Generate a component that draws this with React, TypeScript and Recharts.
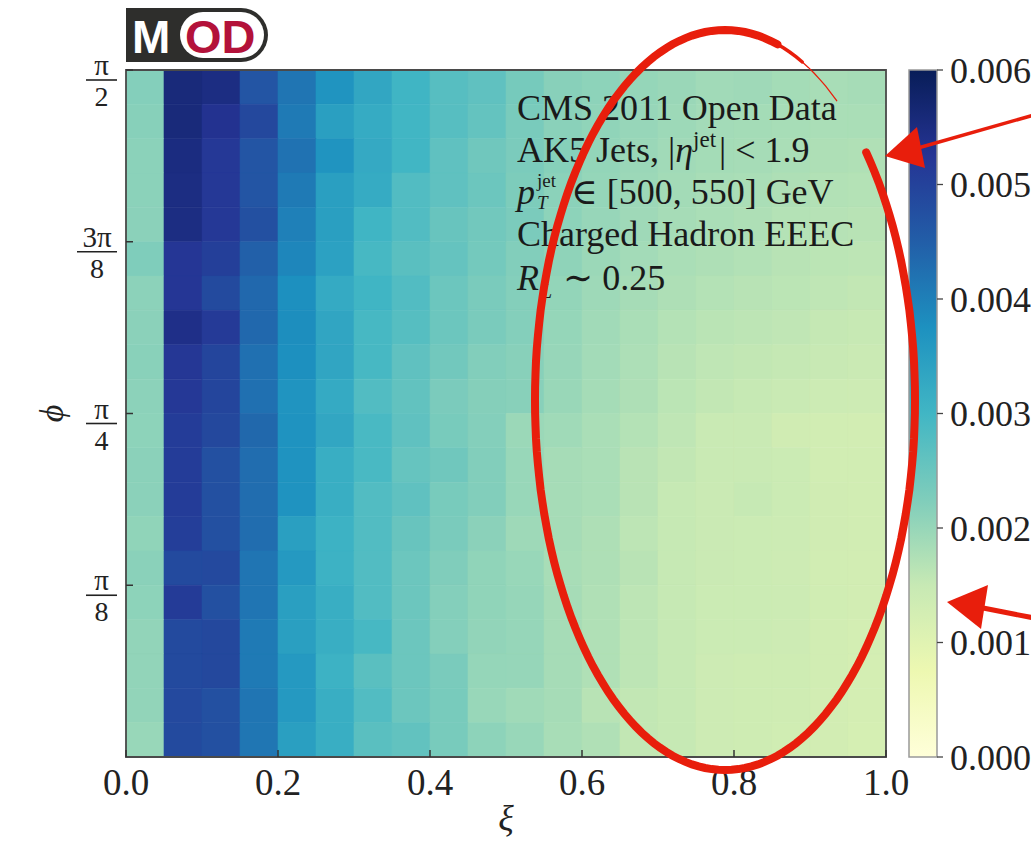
import { ReferenceArea, ReferenceLine, Scatter, ScatterChart, XAxis, YAxis, Label } from 'recharts'

// xi bin edges (20 bins) and phi bin edges (20 bins from 0 to pi/2)
const xiEdges = [0, 0.05, 0.1, 0.15, 0.2, 0.25, 0.3, 0.35, 0.4, 0.45, 0.5, 0.55, 0.6, 0.65, 0.7, 0.75, 0.8, 0.85, 0.9, 0.95, 1.0]
const phiEdges = Array.from({ length: 21 }, (_, k) => (k * Math.PI) / 40)

// EEEC density in units of 1e-3, first row is the top one (phi near pi/2)
const eeecRows = [
  [2.2, 5.57, 5.48, 4.66, 4.16, 3.69, 3.32, 3.03, 2.73, 2.63, 2.36, 2.16, 2.1, 2.02, 1.97, 1.9, 1.92, 1.86, 1.82, 1.84],
  [2.17, 5.57, 5.3, 4.9, 4.09, 3.47, 3.22, 3.0, 2.73, 2.58, 2.32, 2.14, 2.07, 2.0, 1.94, 1.88, 1.86, 1.83, 1.8, 1.8],
  [2.12, 5.5, 5.18, 4.66, 4.2, 3.69, 3.26, 3.0, 2.63, 2.43, 2.3, 2.18, 2.04, 1.97, 1.9, 1.86, 1.84, 1.8, 1.76, 1.74],
  [2.12, 5.48, 5.18, 4.66, 4.09, 3.47, 3.22, 2.8, 2.63, 2.48, 2.28, 2.12, 2.02, 1.95, 1.87, 1.82, 1.8, 1.76, 1.72, 1.7],
  [2.13, 5.48, 5.18, 4.75, 4.0, 3.47, 3.02, 2.8, 2.53, 2.41, 2.3, 2.1, 2.0, 1.92, 1.84, 1.8, 1.76, 1.7, 1.68, 1.66],
  [2.25, 5.22, 5.05, 4.47, 3.91, 3.43, 2.93, 2.7, 2.57, 2.38, 2.22, 2.08, 1.96, 1.88, 1.8, 1.76, 1.72, 1.66, 1.62, 1.6],
  [2.11, 5.22, 4.86, 4.35, 3.77, 3.24, 3.02, 2.8, 2.48, 2.31, 2.2, 2.04, 1.93, 1.84, 1.76, 1.7, 1.66, 1.62, 1.58, 1.55],
  [2.13, 5.4, 5.14, 4.35, 3.8, 3.34, 2.93, 2.75, 2.48, 2.31, 2.2, 2.02, 1.9, 1.8, 1.7, 1.64, 1.6, 1.57, 1.52, 1.5],
  [2.15, 5.2, 4.95, 4.23, 3.77, 3.34, 2.93, 2.63, 2.41, 2.22, 2.16, 2.0, 1.88, 1.77, 1.66, 1.58, 1.55, 1.52, 1.48, 1.45],
  [2.11, 5.18, 4.95, 4.23, 3.69, 3.24, 2.8, 2.6, 2.3, 2.19, 2.16, 1.98, 1.85, 1.76, 1.62, 1.55, 1.51, 1.47, 1.4, 1.38],
  [2.1, 5.1, 4.9, 4.36, 3.71, 3.32, 2.9, 2.63, 2.33, 2.2, 1.96, 1.91, 1.8, 1.7, 1.58, 1.47, 1.47, 1.33, 1.3, 1.28],
  [2.13, 5.1, 4.75, 4.28, 3.71, 3.16, 2.9, 2.55, 2.43, 2.22, 1.99, 1.84, 1.8, 1.65, 1.55, 1.47, 1.47, 1.42, 1.3, 1.3],
  [2.13, 5.1, 4.75, 4.28, 3.71, 3.16, 2.8, 2.63, 2.33, 2.22, 1.99, 1.84, 1.8, 1.65, 1.51, 1.45, 1.51, 1.42, 1.33, 1.3],
  [2.07, 5.08, 4.75, 4.28, 3.47, 3.08, 2.8, 2.53, 2.31, 2.13, 1.93, 1.84, 1.76, 1.6, 1.51, 1.45, 1.42, 1.4, 1.33, 1.3],
  [2.14, 4.86, 4.88, 4.16, 3.59, 3.08, 2.8, 2.48, 2.24, 2.07, 1.99, 1.82, 1.76, 1.65, 1.51, 1.45, 1.42, 1.38, 1.3, 1.28],
  [2.1, 5.12, 4.75, 4.16, 3.47, 3.16, 2.8, 2.48, 2.2, 2.07, 2.01, 1.84, 1.74, 1.6, 1.51, 1.42, 1.42, 1.4, 1.32, 1.28],
  [2.05, 4.86, 4.9, 4.09, 3.47, 3.16, 2.93, 2.48, 2.2, 2.05, 2.01, 1.84, 1.74, 1.6, 1.51, 1.42, 1.42, 1.38, 1.3, 1.26],
  [2.05, 4.86, 4.9, 4.09, 3.59, 3.08, 2.7, 2.48, 2.31, 2.02, 2.01, 1.84, 1.74, 1.6, 1.51, 1.38, 1.36, 1.36, 1.3, 1.25],
  [2.05, 4.88, 4.75, 4.16, 3.59, 3.16, 2.8, 2.48, 2.33, 1.99, 1.91, 1.84, 1.66, 1.55, 1.51, 1.38, 1.36, 1.34, 1.28, 1.24],
  [1.99, 4.86, 4.75, 4.15, 3.47, 3.16, 2.7, 2.6, 2.33, 2.1, 1.99, 1.82, 1.74, 1.55, 1.51, 1.38, 1.36, 1.32, 1.28, 1.22],
]

const xiTicks = [0, 0.2, 0.4, 0.6, 0.8, 1.0]
const phiTicks = [Math.PI / 8, Math.PI / 4, (3 * Math.PI) / 8, Math.PI / 2]
const phiTickLabels = [['π', '8'], ['π', '4'], ['3π', '8'], ['π', '2']]
const cbarTicks = [0, 1, 2, 3, 4, 5, 6]
const cbarMax = 6
const phiMax = Math.PI / 2

const YLGNBU = ['#ffffd9', '#edf8b1', '#c7e9b4', '#7fcdbb', '#41b6c4', '#1d91c0', '#225ea8', '#253494', '#081d58']

const SERIF = '"Liberation Serif", "DejaVu Serif", serif'
const RED = '#e81e0c'
const X_MARGIN = 12
const Y_MARGIN = 9
const CHART_W = 1031
const CHART_H = 845
const MARGIN = { top: 70, right: 145, bottom: 8, left: 26 }
const Y_AXIS_W = 100
const X_AXIS_H = 80
const PLOT_W = CHART_W - MARGIN.left - MARGIN.right - Y_AXIS_W
const PLOT_H = CHART_H - MARGIN.top - MARGIN.bottom - X_AXIS_H
// inward tick length (7px) expressed in data units
const xTickLen = (7 / PLOT_H) * phiMax
const yTickLen = 7 / PLOT_W

function hexRgb(h: string) {
  return [1, 3, 5].map((i) => parseInt(h.slice(i, i + 2), 16))
}

function ylgnbu(v: number) {
  const t = Math.min(1, Math.max(0, v / cbarMax)) * (YLGNBU.length - 1)
  const i = Math.min(YLGNBU.length - 2, Math.floor(t))
  const f = t - i
  const a = hexRgb(YLGNBU[i])
  const b = hexRgb(YLGNBU[i + 1])
  const c = a.map((av, k) => Math.round(av + (b[k] - av) * f))
  return `rgb(${c[0]},${c[1]},${c[2]})`
}

const cells = eeecRows.flatMap((row, r) =>
  row.map((v, c) => ({
    x1: xiEdges[c],
    x2: xiEdges[c + 1],
    y1: phiEdges[19 - r],
    y2: phiEdges[20 - r],
    xi: (xiEdges[c] + xiEdges[c + 1]) / 2,
    phi: (phiEdges[19 - r] + phiEdges[20 - r]) / 2,
    v,
  })),
)

const cbarPoints = cbarTicks.map((v) => ({ x: 0.5, y: v }))

function XiTick({ x, y, payload }: any) {
  return (
    <text x={x} y={y} dy="0.71em" textAnchor="middle" fontSize={37} fill="#222" fontFamily={SERIF}>
      {Number(payload.value).toFixed(1)}
    </text>
  )
}

function PhiTick({ x, y, payload }: any) {
  const i = phiTicks.findIndex((t) => Math.abs(t - payload.value) < 1e-9)
  const [num, den] = phiTickLabels[i] ?? ['', '']
  const w = num.length > 1 ? 40 : 31
  const bar = y + 10
  return (
    <g fontFamily={SERIF} fill="#222">
      <text x={x - w / 2} y={bar - 5} textAnchor="middle" fontSize={29}>
        {num}
      </text>
      <line x1={x - w} x2={x} y1={bar} y2={bar} stroke="#222" strokeWidth={1.6} />
      <text x={x - w / 2} y={bar + 26} textAnchor="middle" fontSize={28}>
        {den}
      </text>
    </g>
  )
}

function ellipsePath(a0: number, a1: number) {
  const cx = 725
  const cy = 400
  const rx = 190
  const ry = 370
  const pts: string[] = []
  for (let a = a0; a <= a1 + 0.01; a += 2) {
    const t = (a * Math.PI) / 180
    pts.push(`${(cx + rx * Math.cos(t)).toFixed(1)},${(cy + ry * Math.sin(t)).toFixed(1)}`)
  }
  return 'M' + pts.join(' L')
}

function Overlay() {
  return (
    <svg width={1031} height={845} style={{ position: 'absolute', left: 0, top: 0, pointerEvents: 'none' }}>
      {/* MOD logo */}
      <path d="M126,8 H241 A27,27 0 0 1 241,62 H126 Z" fill="#2e2e2c" />
      <rect x={180} y={12} width={84} height={46} rx={23} fill="#fff" />
      <text x={132} y={53} fontSize={46} fontWeight={700} fill="#fff" fontFamily='"Liberation Sans", Arial, sans-serif'>
        M
      </text>
      <text x={185} y={53} fontSize={47} fontWeight={700} fill="#b3123a" fontFamily='"Liberation Sans", Arial, sans-serif'>
        OD
      </text>

      {/* annotation text */}
      <g fontFamily={SERIF} fill="#1a1a1a" fontSize={36}>
        <text x={517} y={120}>CMS 2011 Open Data</text>
        <text x={517} y={162}>
          AK5 Jets, |<tspan fontStyle="italic">η</tspan>
          <tspan fontSize={23} dy={-15}>jet</tspan>
          <tspan dy={15} dx={3}>| {'<'} 1.9</tspan>
        </text>
        <text x={517} y={204} fontStyle="italic">p</text>
        <text x={537} y={187} fontSize={19}>jet</text>
        <text x={537} y={209} fontSize={19} fontStyle="italic">T</text>
        <text x={571} y={204}>∈ [500, 550] GeV</text>
        <text x={517} y={246}>Charged Hadron EEEC</text>
        <text x={517} y={290} fontStyle="italic">R</text>
        <text x={540} y={298} fontSize={22} fontStyle="italic">L</text>
        <text x={563} y={290}>∼ 0.25</text>
      </g>

      {/* hand-drawn ellipse */}
      <path d={ellipsePath(-42, 286)} fill="none" stroke={RED} strokeWidth={8} strokeLinecap="round" />
      <path d={ellipsePath(284, 294)} fill="none" stroke={RED} strokeWidth={3.5} strokeLinecap="round" />
      <path d={ellipsePath(292, 306)} fill="none" stroke={RED} strokeWidth={1.3} strokeLinecap="round" />

      {/* arrows */}
      <line x1={1034} y1={115} x2={918} y2={148} stroke={RED} strokeWidth={3.5} />
      <polygon points="885,156 917,127 925,168" fill={RED} />
      <line x1={1034} y1={618} x2={978} y2={607} stroke={RED} strokeWidth={5} />
      <polygon points="947,602 988,585 981,629" fill={RED} />
    </svg>
  )
}

function App() {
  return (
    <div style={{ position: 'absolute', left: 0, top: 0, width: 1031, height: 845, background: '#fff', overflow: 'hidden' }}>
      <svg width={0} height={0} style={{ position: 'absolute' }}>
        <defs>
          <linearGradient id="ylgnbuGrad" x1="0" y1="1" x2="0" y2="0">
            {YLGNBU.map((c, i) => (
              <stop key={c} offset={i / (YLGNBU.length - 1)} stopColor={c} />
            ))}
          </linearGradient>
        </defs>
      </svg>

      <div style={{ position: 'absolute', left: 0, top: 0 }}>
        <ScatterChart width={CHART_W} height={CHART_H} margin={MARGIN}>
          <XAxis
            type="number"
            dataKey="xi"
            domain={[0, 1]}
            ticks={xiTicks}
            interval={0}
            height={X_AXIS_H}
            tickSize={0}
            tickMargin={X_MARGIN}
            axisLine={false}
            tickLine={false}
            tick={<XiTick />}
          >
            <Label
              content={({ viewBox }: any) => (
                <text
                  x={viewBox.x + viewBox.width / 2}
                  y={viewBox.y + 73}
                  textAnchor="middle"
                  fontSize={36}
                  fontStyle="italic"
                  fill="#222"
                  fontFamily={SERIF}
                >
                  ξ
                </text>
              )}
            />
          </XAxis>
          <YAxis
            type="number"
            dataKey="phi"
            domain={[0, phiMax]}
            ticks={phiTicks}
            interval={0}
            width={Y_AXIS_W}
            tickSize={0}
            tickMargin={Y_MARGIN}
            axisLine={false}
            tickLine={false}
            tick={<PhiTick />}
          >
            <Label
              content={({ viewBox }: any) => {
                const cx = viewBox.x + 25
                const cy = viewBox.y + viewBox.height / 2
                return (
                  <text
                    x={cx}
                    y={cy}
                    dy="0.35em"
                    textAnchor="middle"
                    fontSize={34}
                    fontStyle="italic"
                    fill="#222"
                    fontFamily={SERIF}
                    transform={`rotate(-90 ${cx} ${cy})`}
                  >
                    ϕ
                  </text>
                )
              }}
            />
          </YAxis>
          {cells.map((c, i) => (
            <ReferenceArea
              key={i}
              x1={c.x1}
              x2={c.x2}
              y1={c.y1}
              y2={c.y2}
              fill={ylgnbu(c.v)}
              fillOpacity={1}
              stroke={ylgnbu(c.v)}
              strokeWidth={0.6}
            />
          ))}
          {xiTicks.map((t) => (
            <ReferenceLine
              key={`xt${t}`}
              segment={[
                { x: t, y: 0 },
                { x: t, y: xTickLen },
              ]}
              stroke="#333"
              strokeWidth={1.5}
            />
          ))}
          {phiTicks.map((t) => (
            <ReferenceLine
              key={`yt${t}`}
              segment={[
                { x: 0, y: t },
                { x: yTickLen, y: t },
              ]}
              stroke="#333"
              strokeWidth={1.5}
            />
          ))}
          <ReferenceArea x1={0} x2={1} y1={0} y2={phiMax} fill="none" stroke="#4a4a4a" strokeWidth={1.8} />
          <Scatter data={cells} isAnimationActive={false} shape={() => <g />} />
        </ScatterChart>
      </div>

      <div style={{ position: 'absolute', left: 880, top: 0 }}>
        <ScatterChart width={151} height={845} margin={{ top: 70, right: 0, bottom: 88, left: 29 }}>
          <XAxis type="number" dataKey="x" domain={[0, 1]} hide />
          <YAxis
            type="number"
            dataKey="y"
            orientation="right"
            domain={[0, cbarMax]}
            ticks={cbarTicks}
            interval={0}
            width={94}
            tickSize={6}
            tickMargin={7}
            axisLine={false}
            tickLine={{ stroke: '#444', strokeWidth: 1.3 }}
            tick={{ fontSize: 36, fill: '#222', fontFamily: SERIF }}
            tickFormatter={(v: number) => (v / 1000).toFixed(3)}
          />
          <ReferenceArea
            x1={0}
            x2={1}
            y1={0}
            y2={cbarMax}
            fill="url(#ylgnbuGrad)"
            fillOpacity={1}
            stroke="#999"
            strokeWidth={1.5}
          />
          <Scatter data={cbarPoints} isAnimationActive={false} shape={() => <g />} />
        </ScatterChart>
      </div>

      <Overlay />
    </div>
  )
}

export default App
